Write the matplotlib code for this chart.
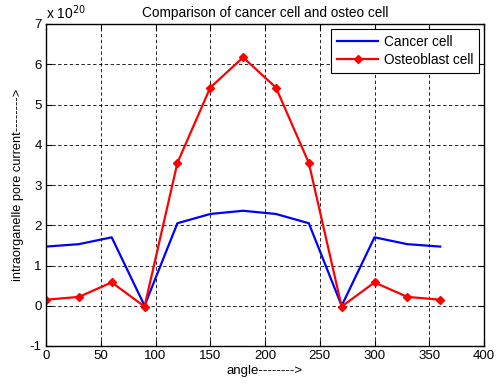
import matplotlib
matplotlib.use("Agg")
import matplotlib.pyplot as plt

plt.rcParams["font.family"] = ["Liberation Sans", "DejaVu Sans"]

angle = [0, 30, 60, 90, 120, 150, 180, 210, 240, 270, 300, 330, 360]
cancer = [1.47, 1.53, 1.70, 0.0, 2.05, 2.28, 2.36, 2.28, 2.05, 0.0, 1.70, 1.53, 1.47]
osteo = [0.15, 0.22, 0.58, -0.02, 3.55, 5.42, 6.17, 5.42, 3.55, -0.02, 0.58, 0.22, 0.15]
scale = 1e20

fig = plt.figure(figsize=(5.0, 3.86), dpi=100)
ax = fig.add_axes([46 / 500, 1 - 346 / 386, 438 / 500, 322 / 386])

ax.plot(angle, [v * scale for v in cancer], color="#0000ff", lw=1.6, label="Cancer cell")
ax.plot(angle, [v * scale for v in osteo], color="#ff0000", lw=1.6, marker="D",
        markersize=4, label="Osteoblast cell")

ax.set_xlim(0, 400)
ax.set_ylim(-1 * scale, 7 * scale)
ax.set_xticks(range(0, 401, 50))
ax.set_yticks([i * scale for i in range(-1, 8)])
ax.set_yticklabels([str(i) for i in range(-1, 8)])
ax.tick_params(direction="in", labelsize=9.5, length=4, top=True, right=True, pad=3)
ax.grid(True, color="black", linestyle=(0, (4, 3)), linewidth=0.6)

for s in ax.spines.values():
    s.set_linewidth(1.0)

ax.text(0.0, 1.005, r"x 10$^{20}$", transform=ax.transAxes, fontsize=10, va="bottom", ha="left")
ax.set_title("Comparison of cancer cell and osteo cell", fontsize=9.8, pad=5)
ax.set_xlabel("angle-------->", fontsize=9.5, labelpad=2)
ax.set_ylabel("intraorganelle pore current-------->", fontsize=9.2, labelpad=4)

leg = ax.legend(loc="upper right", fontsize=9.8, fancybox=False, framealpha=1,
                edgecolor="black", borderaxespad=0.35, handlelength=3.0,
                handletextpad=0.4, borderpad=0.45, labelspacing=0.3)
leg.get_frame().set_linewidth(0.8)

fig.savefig("out.png", dpi=100)
